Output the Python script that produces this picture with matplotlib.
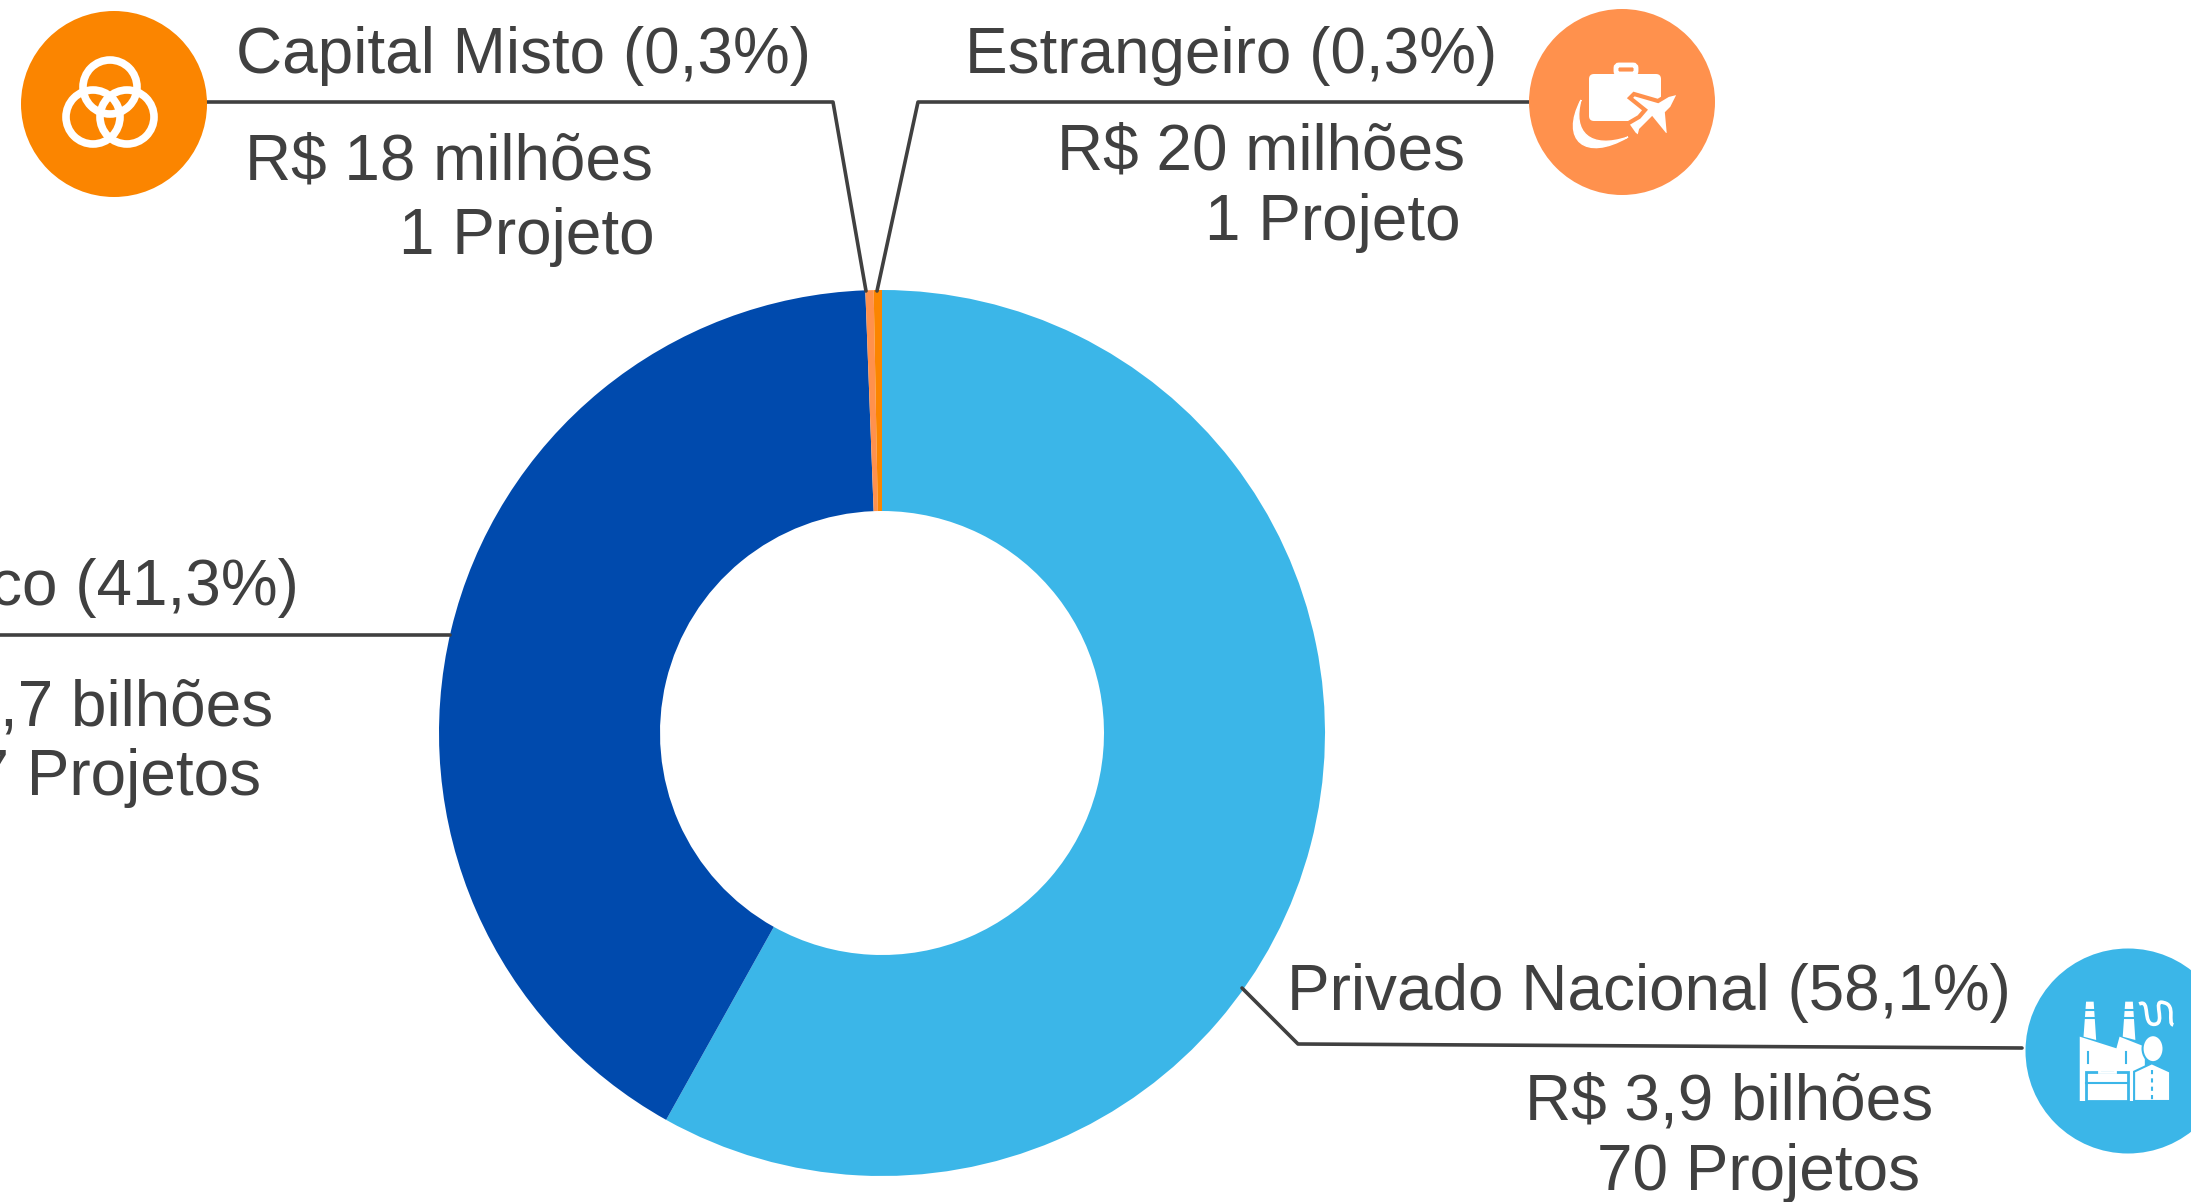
import matplotlib
matplotlib.use("Agg")
import matplotlib.pyplot as plt
from matplotlib.patches import Circle, Polygon, Rectangle, FancyBboxPatch, Ellipse
from matplotlib.path import Path
from matplotlib.patches import PathPatch

W, H = 2191, 1202
plt.rcParams['font.family'] = ['Liberation Sans', 'DejaVu Sans']

# Chart data, clockwise from 12 o'clock
categories = ["Privado Nacional", "Público", "Estrangeiro", "Capital Misto"]
shares = [58.1, 41.3, 0.3, 0.3]
colors = ["#3BB6E8", "#004AAD", "#FF914D", "#FB8500"]
amounts = ["R$ 3,9 bilhões", "R$ 2,7 bilhões", "R$ 20 milhões", "R$ 18 milhões"]
projects = ["70 Projetos", "47 Projetos", "1 Projeto", "1 Projeto"]

TEXT = "#404040"
FS = 46


def yy(py):
    """Picture y (from the top) to axis y."""
    return H - py


fig = plt.figure(figsize=(W / 100, H / 100), dpi=100)
ax = fig.add_axes([0, 0, 1, 1])
ax.pie(shares, colors=colors, startangle=90, counterclock=False,
       center=(882, yy(733)), radius=443,
       wedgeprops={"width": 221, "linewidth": 0})
ax.set_xlim(0, W)
ax.set_ylim(0, H)
ax.set_aspect("equal")
ax.axis("off")


def leader(points):
    xs = [p[0] for p in points]
    ys = [yy(p[1]) for p in points]
    ax.plot(xs, ys, color=TEXT, lw=2.6, solid_capstyle="round",
            solid_joinstyle="round", zorder=3)


def label(x, py, s, ha="left"):
    ax.text(x, yy(py), s, ha=ha, va="baseline", fontsize=FS, color=TEXT, zorder=5)


# leader lines
leader([(207, 102), (833, 102), (866, 291)])
leader([(1530, 102), (918, 102), (877, 291)])
leader([(-5, 635), (450, 635)])
leader([(1242, 988), (1298, 1044), (2022, 1048)])

# labels
label(236, 73, f"{categories[3]} ({shares[3]:.1f}%)".replace(".", ","))
label(653, 180, amounts[3], "right")
label(655, 254, projects[3], "right")

label(1497, 73, f"{categories[2]} ({shares[2]:.1f}%)".replace(".", ","), "right")
label(1465, 169, amounts[2], "right")
label(1461, 240, projects[2], "right")

label(299, 605, f"{categories[1]} ({shares[1]:.1f}%)".replace(".", ","), "right")
label(273, 725, amounts[1], "right")
label(261, 795, projects[1], "right")

label(2011, 1010, f"{categories[0]} ({shares[0]:.1f}%)".replace(".", ","), "right")
label(1933, 1119, amounts[0], "right")
label(1920, 1190, projects[0], "right")

# icon badges
ax.add_patch(Circle((114, yy(104)), 93, color="#FB8500", lw=0, zorder=4))
ax.add_patch(Circle((1622, yy(102)), 93, color="#FF914D", lw=0, zorder=4))
ax.add_patch(Circle((2128, yy(1051)), 102.5, color="#3BB6E8", lw=0, zorder=4))

# three rings
for cx, cy in [(110, 87), (93, 117), (127, 117)]:
    ax.add_patch(Circle((cx, yy(cy)), 27, fill=False, ec="white", lw=5.5, zorder=6))

# suitcase and plane
B = "#FF914D"
ax.add_patch(FancyBboxPatch((1592, yy(118)), 66, 41, boxstyle="round,pad=3,rounding_size=5",
                            fc="white", ec="none", zorder=6))
ax.add_patch(FancyBboxPatch((1616, yy(74)), 20, 9, boxstyle="round,pad=0,rounding_size=3",
                            fc="none", ec="white", lw=3.5, zorder=6))
swoosh = Path([(1581, yy(100)), (1560, yy(140)), (1585, yy(162)), (1628, yy(137)),
               (1590, yy(150)), (1572, yy(132)), (1581, yy(100))],
              [Path.MOVETO, Path.CURVE4, Path.CURVE4, Path.CURVE4,
               Path.CURVE4, Path.CURVE4, Path.CURVE4])
ax.add_patch(PathPatch(swoosh, fc="white", ec="white", lw=1, zorder=6))
plane = [(1680, yy(92)), (1672, yy(108)), (1667, yy(113)), (1669, yy(135)), (1665, yy(135)),
         (1652, yy(119)), (1641, yy(130)), (1639, yy(138)), (1634, yy(134)),
         (1627, yy(124)), (1639, yy(117)), (1645, yy(110)), (1630, yy(98)), (1634, yy(94)),
         (1658, yy(101)), (1668, yy(95))]
ax.add_patch(Polygon(plane, closed=True, fc="white", ec=B, lw=3, zorder=7))

# factory, person and briefcase
BL = "#3BB6E8"


def fx(x):
    return 1200 + 0.632 * x


def fy(y):
    return yy(930 + y / 3)


for x0, x1 in [(1398, 1418), (1460, 1480)]:
    chimney = [(fx(x0 + 4), fy(215)), (fx(x1 - 4), fy(215)), (fx(x1), fy(330)), (fx(x0), fy(320))]
    ax.add_patch(Polygon(chimney, closed=True, fc="white", ec="none", zorder=6))
    ax.plot([fx(x0), fx(x1)], [fy(240), fy(240)], color=BL, lw=1.5, zorder=7)
    ax.plot([fx(x0), fx(x1)], [fy(265), fy(265)], color=BL, lw=1.5, zorder=7)

building = [(fx(1392), fy(320)), (fx(1450), fy(355)), (fx(1455), fy(320)), (fx(1495), fy(350)),
            (fx(1495), fy(513)), (fx(1392), fy(513))]
ax.add_patch(Polygon(building, closed=True, fc="white", ec="none", zorder=6))
for x in [1405, 1465]:
    ax.plot([fx(x), fx(x)], [fy(365), fy(400)], color=BL, lw=1.5, zorder=7)

ax.add_patch(Rectangle((fx(1402), fy(513)), fx(1468) - fx(1402), fy(425) - fy(513),
                       fc="white", ec=BL, lw=2, zorder=7))
ax.add_patch(Rectangle((fx(1423), fy(425)), fx(1447) - fx(1423), fy(405) - fy(425),
                       fc="none", ec="white", lw=2, zorder=7))
ax.plot([fx(1402), fx(1468)], [fy(460), fy(460)], color=BL, lw=1.5, zorder=8)

ax.add_patch(Ellipse((fx(1508), fy(356)), 21, 27, fc="white", ec=BL, lw=1.5, zorder=7))
body = [(fx(1478), fy(513)), (fx(1478), fy(425)), (fx(1506), fy(400)), (fx(1535), fy(425)),
        (fx(1535), fy(513))]
ax.add_patch(Polygon(body, closed=True, fc="white", ec=BL, lw=1.5, zorder=7))
ax.plot([fx(1506), fx(1506)], [fy(420), fy(513)], color=BL, lw=1.5, ls=(0, (2, 2)), zorder=8)

wave = Path([(fx(1486), fy(222)), (fx(1505), fy(205)), (fx(1490), fy(285)), (fx(1510), fy(283)),
             (fx(1530), fy(281)), (fx(1505), fy(205)), (fx(1525), fy(218)),
             (fx(1545), fy(225)), (fx(1530), fy(280)), (fx(1540), fy(285))],
            [Path.MOVETO] + [Path.CURVE4] * 9)
ax.add_patch(PathPatch(wave, fc="none", ec="white", lw=2.6, zorder=6))

fig.savefig("out.png", dpi=100)
